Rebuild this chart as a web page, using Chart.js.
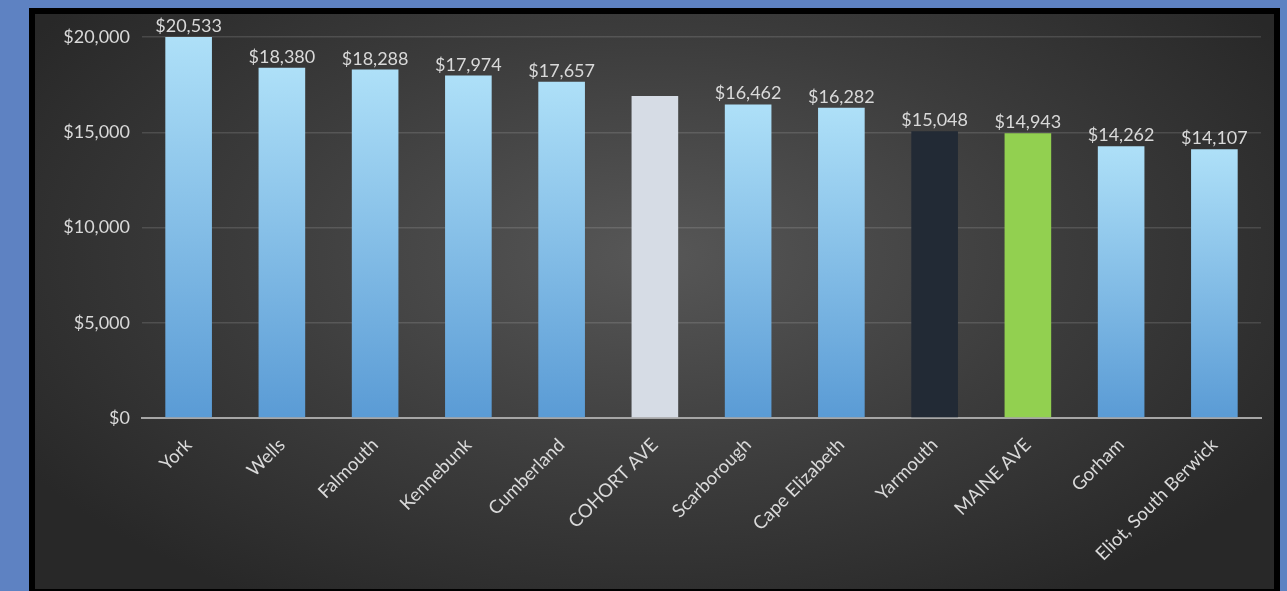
<!DOCTYPE html>
<html>
<head>
<meta charset="utf-8">
<script src="https://cdn.jsdelivr.net/npm/chart.js@4"></script>
<style>
  html, body { margin: 0; padding: 0; }
  body { width: 1287px; height: 591px; background: #5e82c2; position: relative; overflow: hidden; }
  #panel {
    position: absolute; left: 29px; top: 8px;
    width: 1239px; height: 575px;
    border: 6px solid #000;
    background: radial-gradient(ellipse 60% 70% at 50% 42%, #575757 0%, #3c3c3c 55%, #282828 100%);
  }
  #wrap { position: absolute; left: 0; top: 0; width: 1239px; height: 575px; }
</style>
</head>
<body>
<div id="panel"><div id="wrap"><canvas id="myChart"></canvas></div></div>
<script>
const towns = ["York", "Wells", "Falmouth", "Kennebunk", "Cumberland", "COHORT AVE",
  "Scarborough", "Cape Elizabeth", "Yarmouth", "MAINE AVE", "Gorham", "Eliot, South Berwick"];
const spending = [20533, 18380, 18288, 17974, 17657, 16899, 16462, 16282, 15048, 14943, 14262, 14107];
const showLabel = [true, true, true, true, true, false, true, true, true, true, true, true];
const yTicks = [0, 5000, 10000, 15000, 20000];

const textColor = "#d9d9d9";
const fontFamily = "Lato, 'Open Sans', sans-serif";

const money = (v) => "$" + v.toLocaleString("en-US");

// plain colours for the highlighted bars, gradient for the rest
const solidColors = { "COHORT AVE": "#d6dce5", "Yarmouth": "#222a35", "MAINE AVE": "#92d050" };

const barFill = (context) => {
  const chart = context.chart;
  const name = towns[context.dataIndex];
  if (solidColors[name]) return solidColors[name];
  const yScale = chart.scales.y;
  if (!chart.chartArea || !yScale) return "#5b9bd5";
  const top = Math.max(yScale.getPixelForValue(context.raw), chart.chartArea.top);
  const bottom = yScale.getPixelForValue(0);
  const grad = chart.ctx.createLinearGradient(0, top, 0, bottom);
  grad.addColorStop(0, "#aee0f8");
  grad.addColorStop(1, "#5a9bd5");
  return grad;
};

// value labels above the bars (York's bar runs past the axis max, so use the clipped top)
const valueLabels = {
  id: "valueLabels",
  afterDatasetsDraw(chart) {
    const ctx = chart.ctx;
    const meta = chart.getDatasetMeta(0);
    ctx.save();
    ctx.font = "18px " + fontFamily;
    ctx.fillStyle = textColor;
    ctx.textAlign = "center";
    ctx.textBaseline = "alphabetic";
    meta.data.forEach((bar, i) => {
      if (!showLabel[i]) return;
      const top = Math.max(bar.y, chart.chartArea.top);
      ctx.fillText(money(spending[i]), bar.x, top - 5);
    });
    ctx.restore();
  }
};

const ctx = document.querySelector("#myChart").getContext("2d");

const barChart = {
  type: "bar",
  data: {
    labels: towns,
    datasets: [
      {
        data: spending,
        backgroundColor: barFill,
        borderWidth: 0,
        barPercentage: 0.5,
        categoryPercentage: 1.0,
      },
    ],
  },
  options: {
    responsive: true,
    maintainAspectRatio: false,
    animation: false,
    layout: { padding: { top: 23, right: 13, left: 0, bottom: 0 } },
    plugins: {
      legend: { display: false },
      tooltip: { enabled: false },
    },
    scales: {
      x: {
        grid: { display: false, drawTicks: false },
        border: { display: true, color: "#a6a6a6", width: 2 },
        ticks: {
          color: textColor,
          font: { family: fontFamily, size: 18.5 },
          maxRotation: 45,
          minRotation: 45,
          padding: 16,
          autoSkip: false,
        },
        afterFit: (scale) => { scale.height = 171; },
      },
      y: {
        min: 0,
        max: 20000,
        afterBuildTicks: (scale) => { scale.ticks = yTicks.map((v) => ({ value: v })); },
        grid: {
          color: (c) => (c.tick.value === 0 ? "rgba(0,0,0,0)" : "rgba(255,255,255,0.13)"),
          lineWidth: 1.5,
          drawTicks: false,
        },
        border: { display: false },
        ticks: {
          color: textColor,
          font: { family: fontFamily, size: 18 },
          padding: 12,
          callback: (v) => money(v),
        },
        afterFit: (scale) => { scale.width = 107; },
      },
    },
  },
  plugins: [valueLabels],
};

new Chart(ctx, barChart);
</script>
</body>
</html>
